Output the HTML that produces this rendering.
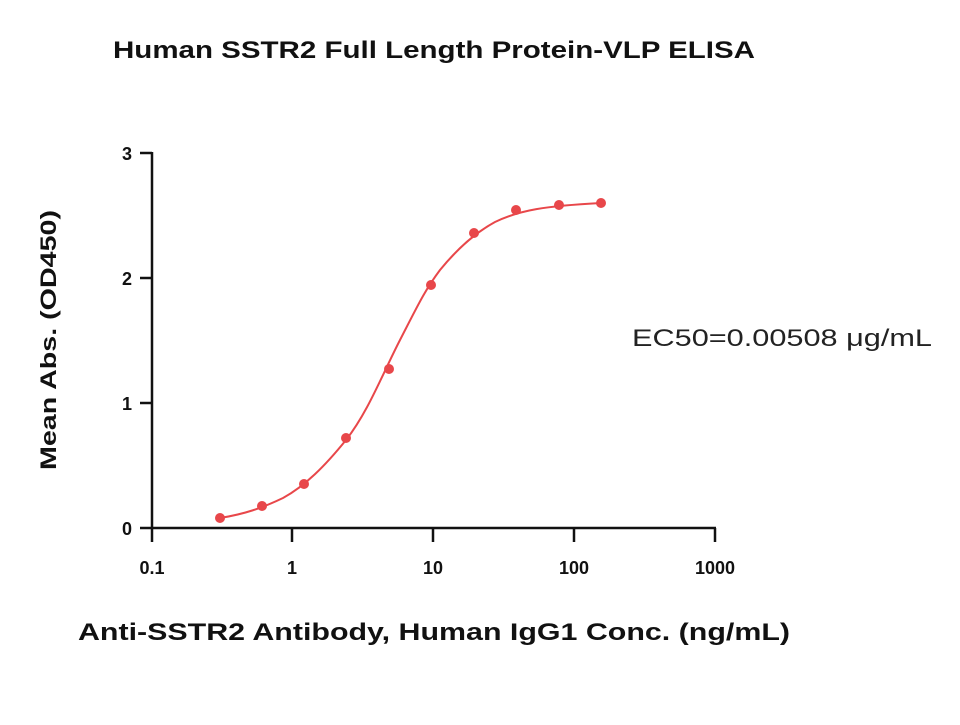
<!DOCTYPE html>
<html><head><style>
body{margin:0;background:#fff;width:960px;height:720px;overflow:hidden}
text{font-family:"Liberation Sans",sans-serif}
</style></head><body>
<svg width="960" height="720" viewBox="0 0 960 720">
<text x="113" y="58" font-size="24" font-weight="bold" fill="#111" textLength="642" lengthAdjust="spacingAndGlyphs">Human SSTR2 Full Length Protein-VLP ELISA</text>
<g stroke="#111" stroke-width="2.5" fill="none">
<line x1="152" y1="152" x2="152" y2="529"/>
<line x1="151" y1="528" x2="716" y2="528"/>
<line x1="140" y1="153" x2="152" y2="153"/>
<line x1="140" y1="278" x2="152" y2="278"/>
<line x1="140" y1="403" x2="152" y2="403"/>
<line x1="140" y1="528" x2="152" y2="528"/>
<line x1="152" y1="528" x2="152" y2="542"/>
<line x1="292" y1="528" x2="292" y2="542"/>
<line x1="433" y1="528" x2="433" y2="542"/>
<line x1="574" y1="528" x2="574" y2="542"/>
<line x1="715" y1="528" x2="715" y2="542"/>
</g>
<g font-size="18" font-weight="bold" fill="#111" text-anchor="end">
<text x="132" y="160">3</text><text x="132" y="285">2</text><text x="132" y="410">1</text><text x="132" y="535">0</text>
</g>
<g font-size="18" font-weight="bold" fill="#111" text-anchor="middle">
<text x="152" y="574">0.1</text><text x="292" y="574">1</text><text x="433" y="574">10</text><text x="574" y="574">100</text><text x="715" y="574">1000</text>
</g>
<text transform="translate(56 470) rotate(-90)" font-size="22" font-weight="bold" fill="#111" textLength="260" lengthAdjust="spacingAndGlyphs">Mean Abs. (OD450)</text>
<text x="78" y="640" font-size="24" font-weight="bold" fill="#111" textLength="712" lengthAdjust="spacingAndGlyphs">Anti-SSTR2 Antibody, Human IgG1 Conc. (ng/mL)</text>
<text x="632" y="346" font-size="24" fill="#222" textLength="300" lengthAdjust="spacingAndGlyphs">EC50=0.00508 μg/mL</text>
<path d="M220,518 C245,514 262,508 283,498 C305,486 325,466 346,440 C368,412 382,375 400,340 C418,305 425,290 440,270 C458,248 475,233 495,222 C520,210 545,206 601,203" fill="none" stroke="#e8474a" stroke-width="2"/>
<g fill="#e8474a">
<circle cx="220" cy="518" r="5"/><circle cx="262" cy="506" r="5"/><circle cx="304" cy="484" r="5"/><circle cx="346" cy="438" r="5"/><circle cx="389" cy="369" r="5"/><circle cx="431" cy="285" r="5"/><circle cx="474" cy="233" r="5"/><circle cx="516" cy="210" r="5"/><circle cx="559" cy="205" r="5"/><circle cx="601" cy="203" r="5"/>
</g>
</svg>
</body></html>
